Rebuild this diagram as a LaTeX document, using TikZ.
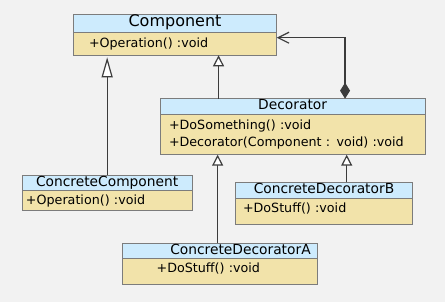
\documentclass[tikz,border=0pt]{standalone}
\usepackage{fontspec}
\setmainfont{DejaVu Sans}
\usetikzlibrary{
  arrows.meta,
  positioning,
  calc
}
\definecolor{umlBg}{HTML}{F2F2F2}
\definecolor{umlHead}{HTML}{CDEBFD}
\definecolor{umlBody}{HTML}{F2E3AA}
\definecolor{umlEdge}{HTML}{7C7C7C}
\definecolor{umlLine}{HTML}{3C3C3C}
\tikzset{
  classhead/.style={
    draw=umlEdge, fill=umlHead, line width=0.9pt, anchor=north west,
    inner sep=0pt, outer sep=0pt, text height=10pt, text depth=3pt,
    font=\fontsize{13.8}{16}\selectfont
  },
  classbody/.style={
    draw=umlEdge, fill=umlBody, line width=0.9pt, inner ysep=0pt,
    outer sep=0pt, align=left, font=\fontsize{12.7}{17.7}\selectfont
  },
  inherit/.style={-{Triangle[length=11pt, width=11pt, fill=white]}, line width=1.2pt, umlLine},
  inheritlong/.style={-{Triangle[length=20pt, width=11pt, fill=white]}, line width=1.2pt, umlLine, shorten >=2pt},
  aggregate/.style={{Diamond[length=16pt, width=10pt]}-{Straight Barb[length=11pt, width=11pt]}, line width=1.2pt, umlLine}
}
\begin{document}
\begin{tikzpicture}[x=1pt, y=-1pt]
  \fill[umlBg] (0,0) rectangle (445,302);
  \useasboundingbox (0,0) rectangle (445,302);

  % classes
  \node[classhead, minimum width=203.4pt, minimum height=18pt, font=\fontsize{16}{19}\selectfont] (comp) at (73.3,14.3) {Component};
  \node[classbody, below=0pt of comp, minimum width=203.4pt, minimum height=23pt, inner xsep=15.7pt, text width=172pt] (compbody) {+Operation() :void};

  \node[classhead, minimum width=264.7pt, minimum height=15.6pt] (deco) at (160.3,98.7) {Decorator};
  \node[classbody, below=0pt of deco, minimum width=264.7pt, minimum height=40.4pt, inner xsep=8.7pt, text width=247.3pt] (decobody) {+DoSomething() :void\\+Decorator(Component : void) :void};

  \node[classhead, minimum width=169.7pt, minimum height=15.4pt] (ccomp) at (22.3,175.3) {ConcreteComponent};
  \node[classbody, below=0pt of ccomp, minimum width=169.7pt, minimum height=20pt, inner xsep=3.7pt, text width=162.3pt] (ccompbody) {+Operation() :void};

  \node[classhead, minimum width=177.4pt, minimum height=16pt] (cdecb) at (235.3,182.3) {ConcreteDecoratorB};
  \node[classbody, below=0pt of cdecb, minimum width=177.4pt, minimum height=26pt, inner xsep=7.7pt, text width=162pt, text height=9.7pt, text depth=7.7pt] (cdecbbody) {+DoStuff() :void};

  \node[classhead, minimum width=195.4pt, minimum height=15pt, text width=181.4pt, align=right] (cdeca) at (122.3,243.3) {ConcreteDecoratorA};
  \node[classbody, below=0pt of cdeca, minimum width=195.4pt, minimum height=26.4pt, inner xsep=34.4pt, text width=126.6pt, text height=9.7pt, text depth=6.9pt] (cdecabody) {+DoStuff() :void};

  % relations
  \coordinate (decoup) at ($(deco.north west)!0.22!(deco.north east)$);
  \coordinate (decoagg) at ($(deco.north west)!0.698!(deco.north east)$);
  \coordinate (compin) at ($(compbody.north east)+(0,5.4)$);
  \coordinate (cdecaup) at ($(cdeca.north west)!0.488!(cdeca.north east)$);
  \coordinate (cdecbup) at ($(cdecb.north west)!0.628!(cdecb.north east)$);

  \draw[inheritlong] (ccomp.north) -- (ccomp.north |- compbody.south);
  \draw[inherit] (decoup) -- (decoup |- compbody.south);
  \draw[aggregate] (decoagg) |- (compin);
  \draw[inherit] (cdecaup) -- (cdecaup |- decobody.south);
  \draw[inherit] (cdecbup) -- (cdecbup |- decobody.south);
\end{tikzpicture}
\end{document}
